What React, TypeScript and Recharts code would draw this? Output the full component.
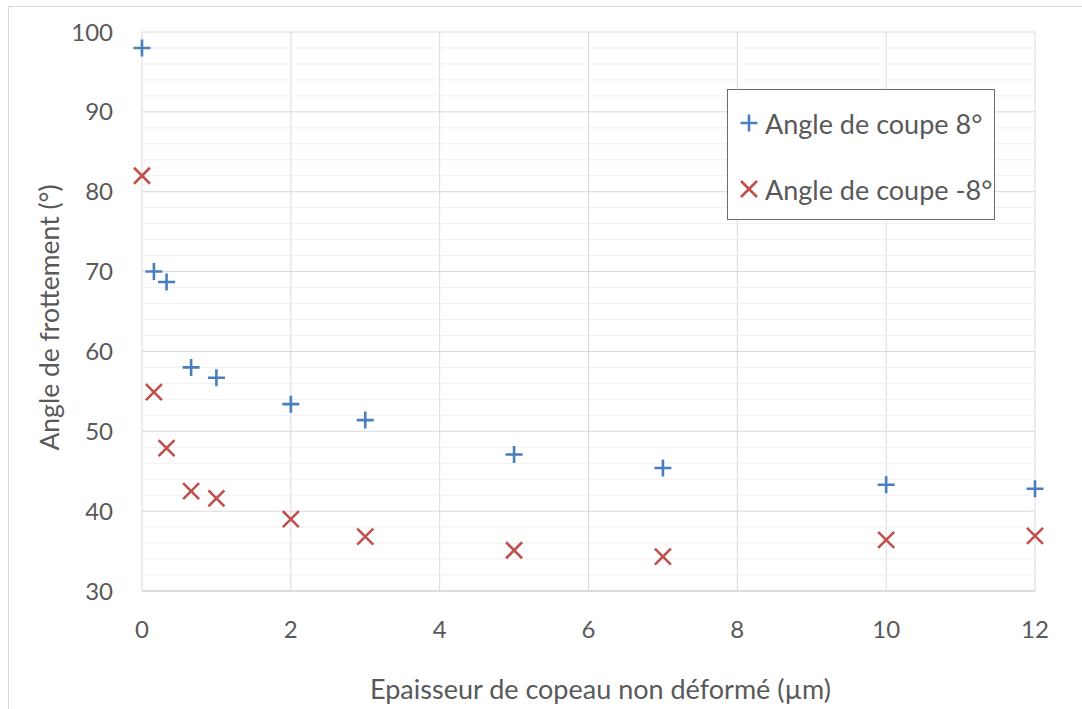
import React from "react";
import {
  ScatterChart,
  Scatter,
  XAxis,
  YAxis,
  CartesianGrid,
  ReferenceLine,
  Legend,
  Label,
} from "recharts";

const thickness = [0, 0.16, 0.33, 0.66, 1, 2, 3, 5, 7, 10, 12];
const anglePlus8 = [98, 70, 68.7, 58, 56.7, 53.4, 51.4, 47.1, 45.4, 43.3, 42.8];
const angleMinus8 = [82, 54.9, 47.9, 42.5, 41.6, 39, 36.8, 35.1, 34.3, 36.4, 36.9];
const xTicks = [0, 2, 4, 6, 8, 10, 12];
const yTicks = [30, 40, 50, 60, 70, 80, 90, 100];
const yMinorTicks = [32, 34, 36, 38, 42, 44, 46, 48, 52, 54, 56, 58, 62, 64, 66, 68, 72, 74, 76, 78, 82, 84, 86, 88, 92, 94, 96, 98];
const seriesNames = ["Angle de coupe 8°", "Angle de coupe -8°"];
const xTitle = "Epaisseur de copeau non déformé (µm)";
const yTitle = "Angle de frottement (°)";

const BLUE = "#4A7EBB";
const RED = "#C0504D";
const TEXT = "#595959";
const FONT = "Lato, 'Open Sans', sans-serif";

const dataPlus = thickness.map((x, i) => ({ x, y: anglePlus8[i] }));
const dataMinus = thickness.map((x, i) => ({ x, y: angleMinus8[i] }));

const PlusShape = (props: any) => {
  const { cx, cy } = props;
  const r = 8.5;
  return (
    <path
      d={`M${cx - r},${cy}H${cx + r}M${cx},${cy - r}V${cy + r}`}
      stroke={BLUE}
      strokeWidth={2.6}
      fill="none"
    />
  );
};

const CrossShape = (props: any) => {
  const { cx, cy } = props;
  const r = 8;
  return (
    <path
      d={`M${cx - r},${cy - r}L${cx + r},${cy + r}M${cx - r},${cy + r}L${cx + r},${cy - r}`}
      stroke={RED}
      strokeWidth={2.6}
      fill="none"
    />
  );
};

const XTitle = (props: any) => {
  const vb = props.viewBox || {};
  return (
    <text
      x={vb.x + vb.width / 2 + 12}
      y={vb.y + 97}
      textAnchor="middle"
      dominantBaseline="central"
      fill={TEXT}
      fontSize={27}
      fontFamily={FONT}
    >
      {xTitle}
    </text>
  );
};

const YTitle = (props: any) => {
  const vb = props.viewBox || {};
  const cx = 49;
  const cy = vb.y + vb.height / 2 + 6;
  return (
    <text
      x={cx}
      y={cy}
      transform={`rotate(-90, ${cx}, ${cy})`}
      textAnchor="middle"
      dominantBaseline="central"
      fill={TEXT}
      fontSize={26.5}
      fontFamily={FONT}
    >
      {yTitle}
    </text>
  );
};

const LegendBox = () => (
  <div
    style={{
      width: 266,
      height: 129,
      border: "1px solid #6b6b6b",
      background: "#fff",
      boxSizing: "content-box",
      fontFamily: FONT,
      fontSize: 27,
      color: TEXT,
      position: "relative",
    }}
  >
    {seriesNames.map((name, i) => (
      <div
        key={name}
        style={{
          position: "absolute",
          left: 11,
          top: i === 0 ? 16 : 82,
          height: 34,
          display: "flex",
          alignItems: "center",
          whiteSpace: "nowrap",
        }}
      >
        <svg width={20} height={20} style={{ marginRight: 6 }}>
          {i === 0 ? (
            <path d="M1.5,10H18.5M10,1.5V18.5" stroke={BLUE} strokeWidth={2.6} fill="none" />
          ) : (
            <path d="M2,2L18,18M2,18L18,2" stroke={RED} strokeWidth={2.6} fill="none" />
          )}
        </svg>
        <span>{name}</span>
      </div>
    ))}
  </div>
);

export default function App() {
  return (
    <div style={{ position: "absolute", left: 0, top: 0, width: 1082, height: 709, overflow: "hidden", background: "#fff" }}>
      <div
        style={{
          position: "absolute",
          left: 8,
          top: 6,
          width: 1100,
          height: 720,
          border: "1px solid #d9d9d9",
        }}
      />
      <div style={{ position: "absolute", left: 0, top: 0 }}>
        <ScatterChart width={1082} height={709} margin={{ top: 32, right: 47, left: 0, bottom: 0 }}>
          {yMinorTicks.map((v) => (
            <ReferenceLine key={v} y={v} stroke="#f0f0f0" strokeWidth={1} />
          ))}
          <CartesianGrid stroke="#d9d9d9" strokeWidth={1} />
          <XAxis
            type="number"
            dataKey="x"
            domain={[0, 12]}
            ticks={xTicks}
            interval={0}
            tickLine={false}
            tickSize={0}
            tickMargin={30}
            axisLine={{ stroke: "#d9d9d9", strokeWidth: 1.5 }}
            tick={{ fill: TEXT, fontSize: 24, fontFamily: FONT }}
            height={118}
          >
            <Label content={<XTitle />} />
          </XAxis>
          <YAxis
            type="number"
            dataKey="y"
            domain={[30, 100]}
            ticks={yTicks}
            interval={0}
            tickLine={false}
            axisLine={false}
            tickSize={0}
            tickMargin={29}
            tick={{ fill: TEXT, fontSize: 24, fontFamily: FONT }}
            width={142}
          >
            <Label content={<YTitle />} />
          </YAxis>
          <Legend
            layout="horizontal"
            align="center"
            verticalAlign="middle"
            content={<LegendBox />}
            wrapperStyle={{ position: "absolute", left: 727, top: 89, width: "auto", bottom: "auto" }}
          />
          <Scatter name={seriesNames[0]} data={dataPlus} shape={<PlusShape />} isAnimationActive={false} />
          <Scatter name={seriesNames[1]} data={dataMinus} shape={<CrossShape />} isAnimationActive={false} />
        </ScatterChart>
      </div>
    </div>
  );
}
